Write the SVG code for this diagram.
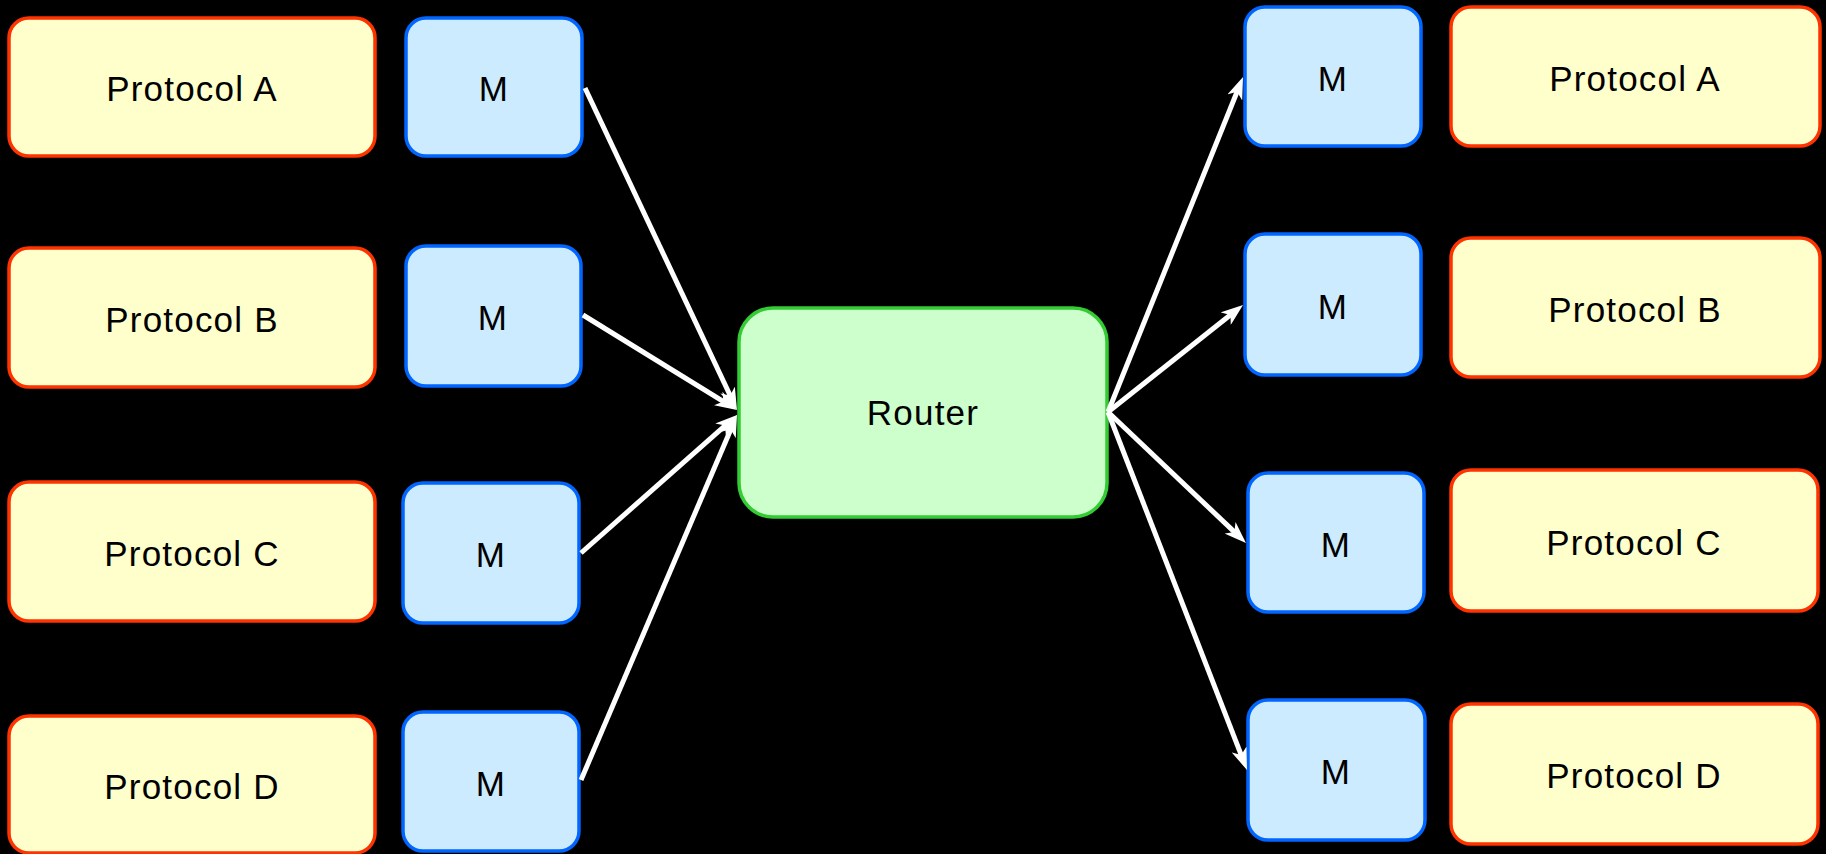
<svg xmlns="http://www.w3.org/2000/svg" width="1826" height="854" viewBox="0 0 1826 854">
<style>
.bg{fill:#000}
.proto{fill:#FFFFCC;stroke:#FF3300;stroke-width:3.5}
.mod{fill:#CCEBFF;stroke:#0066FF;stroke-width:3.5}
.router{fill:#CCFFCC;stroke:#33CC33;stroke-width:3.5}
text{font-family:"Liberation Sans","DejaVu Sans",sans-serif;font-size:35px;fill:#000;text-anchor:middle;letter-spacing:1.2px}
.conn line{stroke:#fff;stroke-width:5;fill:none;marker-end:url(#arr)}
</style>
<defs>
<marker id="arr" viewBox="0 0 22 16" refX="11" refY="8" markerWidth="22" markerHeight="16" markerUnits="userSpaceOnUse" orient="auto">
<path d="M0,0 L22,8 L0,16 L6,8 z" fill="#fff"/>
</marker>
</defs>
<rect class="bg" x="0" y="0" width="1826" height="854"/>

<g id="lpA"><rect class="proto" x="9" y="18" width="366" height="138" rx="20"/><text x="192" y="101">Protocol A</text></g>
<g id="lpB"><rect class="proto" x="9" y="248" width="366" height="139" rx="20"/><text x="192" y="332">Protocol B</text></g>
<g id="lpC"><rect class="proto" x="9" y="482" width="366" height="139" rx="20"/><text x="192" y="566">Protocol C</text></g>
<g id="lpD"><rect class="proto" x="9" y="716" width="366" height="137" rx="20"/><text x="192" y="799">Protocol D</text></g>

<g id="lmA"><rect class="mod" x="406" y="18" width="176" height="138" rx="20"/><text x="494" y="101">M</text></g>
<g id="lmB"><rect class="mod" x="406" y="246" width="175" height="140" rx="20"/><text x="493" y="330">M</text></g>
<g id="lmC"><rect class="mod" x="403" y="483" width="176" height="140" rx="20"/><text x="491" y="567">M</text></g>
<g id="lmD"><rect class="mod" x="403" y="712" width="176" height="139" rx="20"/><text x="491" y="796">M</text></g>

<g id="router"><rect class="router" x="739" y="308" width="368" height="209" rx="34"/><text x="923" y="425">Router</text></g>

<g id="rmA"><rect class="mod" x="1245" y="7" width="176" height="139" rx="20"/><text x="1333" y="91">M</text></g>
<g id="rmB"><rect class="mod" x="1245" y="234" width="176" height="141" rx="20"/><text x="1333" y="319">M</text></g>
<g id="rmC"><rect class="mod" x="1248" y="473" width="176" height="139" rx="20"/><text x="1336" y="557">M</text></g>
<g id="rmD"><rect class="mod" x="1248" y="700" width="177" height="140" rx="20"/><text x="1336" y="784">M</text></g>

<g id="rpA"><rect class="proto" x="1451" y="7" width="369" height="139" rx="20"/><text x="1635" y="91">Protocol A</text></g>
<g id="rpB"><rect class="proto" x="1451" y="238" width="369" height="139" rx="20"/><text x="1635" y="322">Protocol B</text></g>
<g id="rpC"><rect class="proto" x="1451" y="470" width="367" height="141" rx="20"/><text x="1634" y="555">Protocol C</text></g>
<g id="rpD"><rect class="proto" x="1451" y="704" width="367" height="140" rx="20"/><text x="1634" y="788">Protocol D</text></g>

<g id="connectors" class="conn">
<line x1="585" y1="88" x2="732.3" y2="400"/>
<line x1="583" y1="315" x2="727.6" y2="404.2"/>
<line x1="581" y1="553" x2="728.8" y2="422.3"/>
<line x1="581" y1="780" x2="732.7" y2="424.9"/>
<line x1="1108" y1="412" x2="1238.9" y2="87.2"/>
<line x1="1108" y1="412" x2="1234.4" y2="311.8"/>
<line x1="1108" y1="412" x2="1238" y2="535.4"/>
<line x1="1108" y1="412" x2="1243" y2="759.7"/>
</g>
</svg>
